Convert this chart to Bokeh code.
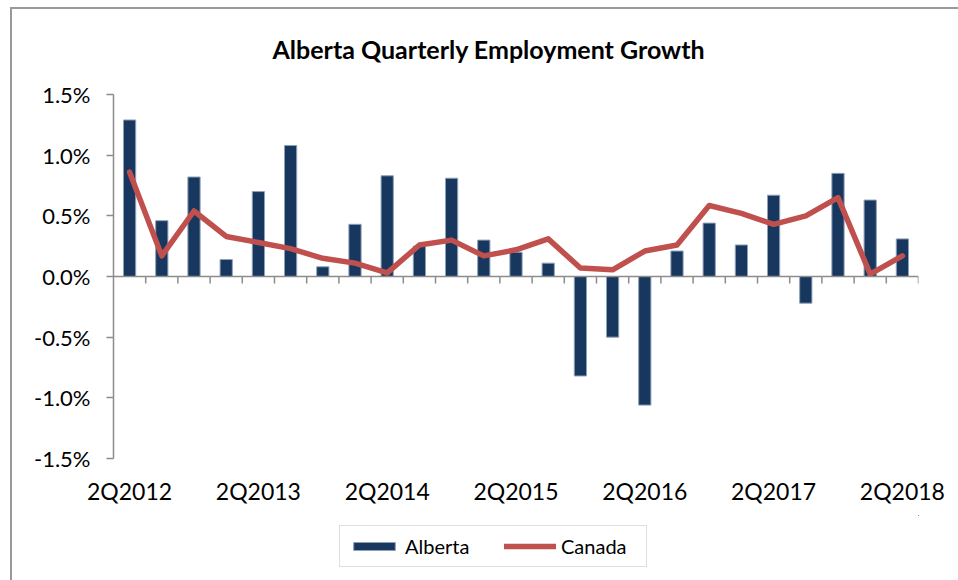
from bokeh.plotting import figure
from bokeh.layouts import column
from bokeh.models import (Range1d, FixedTicker, PrintfTickFormatter, Span, Legend,
                          LegendItem, Title)
from bokeh.embed import file_html
from bokeh.resources import INLINE

# ---- data ----
quarters = ["2Q2012", "3Q2012", "4Q2012", "1Q2013", "2Q2013", "3Q2013", "4Q2013",
            "1Q2014", "2Q2014", "3Q2014", "4Q2014", "1Q2015", "2Q2015", "3Q2015",
            "4Q2015", "1Q2016", "2Q2016", "3Q2016", "4Q2016", "1Q2017", "2Q2017",
            "3Q2017", "4Q2017", "1Q2018", "2Q2018"]
alberta = [1.29, 0.46, 0.82, 0.14, 0.70, 1.08, 0.08, 0.43, 0.83, 0.25, 0.81, 0.30,
           0.20, 0.11, -0.82, -0.50, -1.06, 0.21, 0.44, 0.26, 0.67, -0.22, 0.85, 0.63, 0.31]
canada = [0.86, 0.17, 0.54, 0.33, 0.28, 0.23, 0.15, 0.11, 0.03, 0.26, 0.30, 0.17,
          0.22, 0.31, 0.07, 0.055, 0.21, 0.26, 0.585, 0.52, 0.43, 0.50, 0.65, 0.02, 0.17]
tick_labels = ["2Q2012", "2Q2013", "2Q2014", "2Q2015", "2Q2016", "2Q2017", "2Q2018"]
y_ticks = [-1.5, -1.0, -0.5, 0.0, 0.5, 1.0, 1.5]
title_text = "Alberta Quarterly Employment Growth"

FONT = "Lato"
AXIS_COLOR = "#8c8c8c"
BAR_COLOR = "#17375E"
BAR_EDGE = "#8fa1b8"
LINE_COLOR = "#C0504D"

W = 958
H_MAIN, H_LEG = 515, 65
FRAME_L, FRAME_R, FRAME_T, FRAME_B = 113, 918, 94, 458

xs = list(range(len(quarters)))
tick_pos = [quarters.index(t) for t in tick_labels]
boundaries = [i + 0.5 for i in xs]

border_css = ("linear-gradient(#999,#999) 10px 7px / 2px 1000px no-repeat, "
              "linear-gradient(#999,#999) 10px 7px / 1000px 2px no-repeat, white")

p = figure(width=W, height=H_MAIN, output_backend="svg", toolbar_location=None,
           x_range=Range1d(-0.5, len(quarters) - 0.5),
           y_range=Range1d(y_ticks[0], y_ticks[-1]),
           min_border_left=FRAME_L, min_border_right=W - FRAME_R,
           min_border_top=FRAME_T, min_border_bottom=H_MAIN - FRAME_B)
p.styles = {"background": border_css}
p.border_fill_color = None
p.background_fill_color = None
p.outline_line_color = None
p.xgrid.grid_line_color = None
p.ygrid.grid_line_color = None

p.title = Title(text=title_text, align="left", vertical_align="middle",
                text_font=FONT, text_font_style="bold", text_font_size="25px",
                text_color="black", offset=159, standoff=60)

bars = p.vbar(x=xs, top=alberta, width=0.38, fill_color=BAR_COLOR,
              line_color=BAR_EDGE, line_width=1)
p.add_layout(Span(location=0, dimension="width", line_color=AXIS_COLOR, line_width=1.5))
p.ray(x=boundaries, y=[0] * len(boundaries), length=7, length_units="screen",
      angle=-1.5707963, line_color=AXIS_COLOR, line_width=1.5)
line = p.line(x=xs, y=canada, line_color=LINE_COLOR, line_width=5.5,
              line_join="round", line_cap="round")

# y axis
p.yaxis.ticker = FixedTicker(ticks=y_ticks)
p.yaxis.formatter = PrintfTickFormatter(format="%.1f%%")
p.yaxis.major_label_text_font = FONT
p.yaxis.major_label_text_font_size = "22px"
p.yaxis.major_label_text_color = "black"
p.yaxis.axis_line_color = AXIS_COLOR
p.yaxis.axis_line_width = 1.5
p.yaxis.major_tick_line_color = AXIS_COLOR
p.yaxis.major_tick_line_width = 1.5
p.yaxis.major_tick_in = 0
p.yaxis.major_tick_out = 7
p.yaxis.minor_tick_line_color = None
p.yaxis.major_label_standoff = 16

# x axis: labels only
p.xaxis.ticker = FixedTicker(ticks=tick_pos)
p.xaxis.major_label_overrides = {pos: lab for pos, lab in zip(tick_pos, tick_labels)}
p.xaxis.major_label_text_font = FONT
p.xaxis.major_label_text_font_size = "23px"
p.xaxis.major_label_text_color = "black"
p.xaxis.axis_line_color = None
p.xaxis.major_tick_line_color = None
p.xaxis.minor_tick_line_color = None
p.xaxis.major_label_standoff = 12

# legend strip below the chart (same series, drawn out of view, used only for the key)
q = figure(width=W, height=H_LEG, output_backend="svg", toolbar_location=None,
           x_axis_location=None, y_axis_location=None, title=None,
           x_range=Range1d(-200, -199), y_range=Range1d(-200, -199), min_border=0)
q.styles = {"background": "linear-gradient(#999,#999) 10px 0px / 2px 1000px no-repeat, white"}
q.border_fill_color = None
q.background_fill_color = None
q.outline_line_color = None
q.xgrid.grid_line_color = None
q.ygrid.grid_line_color = None
leg_bar = q.vbar(x=xs, top=alberta, width=0.38, fill_color=BAR_COLOR, line_color=BAR_EDGE,
                 line_width=1)
leg_line = q.line(x=xs, y=canada, line_color=LINE_COLOR, line_width=5.5,
                  line_join="round", line_cap="round")
legend = Legend(items=[LegendItem(label="Alberta", renderers=[leg_bar]),
                       LegendItem(label="Canada", renderers=[leg_line])],
                orientation="horizontal", location=(339 - FRAME_L, 580 - 567),
                glyph_width=52, glyph_height=10, label_standoff=5, spacing=22,
                padding=8, label_width=77, border_line_color="#bfbfbf",
                border_line_width=1.5, background_fill_color="white",
                label_text_font=FONT, label_text_font_size="20px",
                label_text_color="black", margin=0)
q.add_layout(legend)

layout = column(p, q, spacing=0)
open("out.html", "w").write(file_html(layout, INLINE))
